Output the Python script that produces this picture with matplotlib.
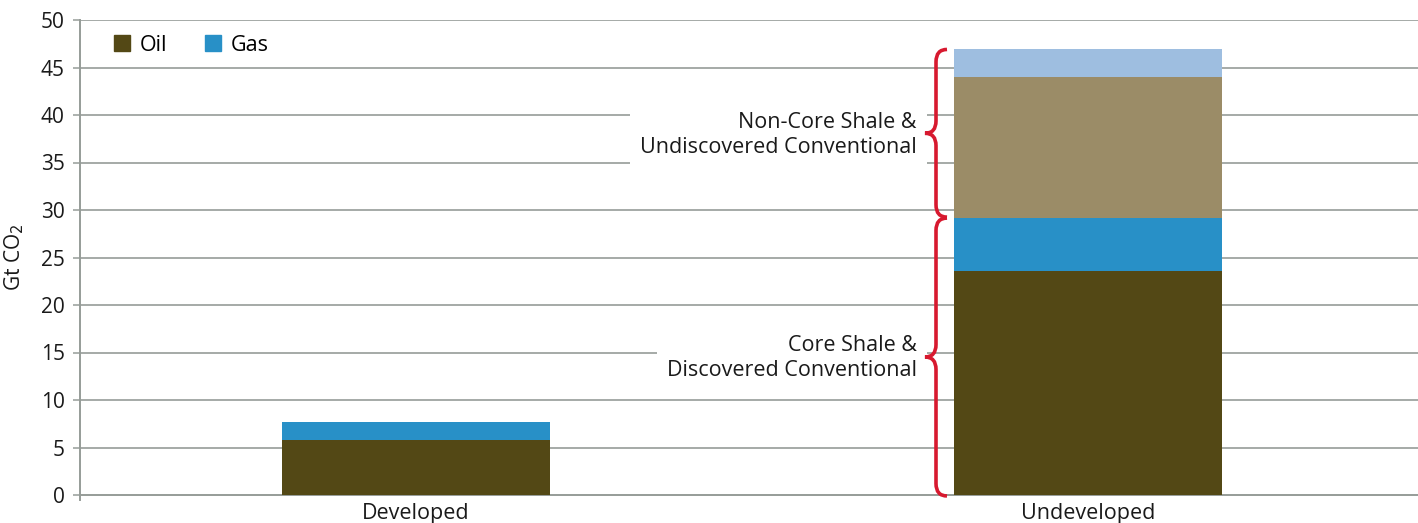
import matplotlib
matplotlib.use("Agg")
import matplotlib.pyplot as plt
from matplotlib.path import Path
from matplotlib.patches import PathPatch, Patch

plt.rcParams['font.family'] = ['Open Sans', 'DejaVu Sans']

categories = ["Developed", "Undeveloped"]
oil = [5.8, 23.6]
gas = [1.9, 5.6]
noncore_oil = [0.0, 14.8]
noncore_gas = [0.0, 2.9]
yticks = [0, 5, 10, 15, 20, 25, 30, 35, 40, 45, 50]

c_oil = "#534815"
c_gas = "#2890c7"
c_nc_oil = "#9b8c67"
c_nc_gas = "#9ebee0"
c_grid = "#969c98"
c_red = "#d7192f"
c_txt = "#1a1a1a"

fig = plt.figure(figsize=(14.18, 5.23), dpi=100)
ax = fig.add_axes([80/1418, 28/523, (1424-80)/1418, 475/523])

x = list(range(len(categories)))
w = 0.40
b1 = oil
b2 = [o + g for o, g in zip(oil, gas)]
b3 = [a + n for a, n in zip(b2, noncore_oil)]
ax.bar(x, oil, w, color=c_oil, zorder=3)
ax.bar(x, gas, w, bottom=b1, color=c_gas, zorder=3)
ax.bar(x, noncore_oil, w, bottom=b2, color=c_nc_oil, zorder=3)
ax.bar(x, noncore_gas, w, bottom=b3, color=c_nc_gas, zorder=3)

ax.set_xlim(-0.5, 1.5)
ax.set_ylim(0, 50)
ax.set_yticks(yticks)
ax.set_yticklabels([str(t) for t in yticks], fontsize=15, color=c_txt)
ax.set_xticks(x)
ax.set_xticklabels(categories, fontsize=15.5, color=c_txt)
ax.tick_params(axis='x', length=0, pad=6)
ax.tick_params(axis='y', length=5, width=1.1, color=c_grid, pad=6)
for yv in yticks[1:]:
    ax.axhline(yv, color=c_grid, lw=1.2, zorder=0)
for s in ["top", "right"]:
    ax.spines[s].set_visible(False)
ax.spines["left"].set_color(c_grid)
ax.spines["left"].set_linewidth(1.4)
ax.spines["left"].set_bounds(-0.5, 50)
ax.spines["bottom"].set_color(c_grid)
ax.spines["bottom"].set_linewidth(1.4)
ax.set_ylabel("Gt CO$_2$", fontsize=15, color=c_txt)
ax.yaxis.set_label_coords(-0.040, 0.5)

# braces
def brace(y0, y1, xt, xs, xe, r):
    ym = (y0 + y1) / 2
    verts = [(xe, y0), (xs, y0), (xs, y0 + r),
             (xs, ym - r),
             (xs, ym), (xt, ym),
             (xs, ym), (xs, ym + r),
             (xs, y1 - r),
             (xs, y1), (xe, y1)]
    codes = [Path.MOVETO, Path.CURVE3, Path.CURVE3,
             Path.LINETO,
             Path.CURVE3, Path.CURVE3,
             Path.CURVE3, Path.CURVE3,
             Path.LINETO,
             Path.CURVE3, Path.CURVE3]
    ax.add_patch(PathPatch(Path(verts, codes), fill=False, edgecolor=c_red,
                           lw=2.6, zorder=5, capstyle='butt', clip_on=False))

xt = 1 - (1089 - 926) / 672
xs = 1 - (1089 - 937) / 672
xe = 1 - (1089 - 948) / 672
brace(-0.1, b2[1] - 0.05, xt, xs, xe, 1.3)
brace(b2[1] + 0.05, b3[1] + noncore_gas[1], xt, xs, xe, 1.3)

bbox = dict(facecolor="white", edgecolor="none", pad=7)
ax.text(xt - 0.012, 37.9, "Non-Core Shale &\nUndiscovered Conventional", ha="right",
        va="center", fontsize=15.5, color=c_txt, linespacing=1.25, zorder=2, bbox=bbox)
ax.text(xt - 0.012, 14.4, "Core Shale &\nDiscovered Conventional", ha="right",
        va="center", fontsize=15.5, color=c_txt, linespacing=1.25, zorder=2, bbox=bbox)

handles = [Patch(color=c_oil, label="Oil"), Patch(color=c_gas, label="Gas")]
ax.legend(handles=handles, loc="upper left", bbox_to_anchor=(0.011, 1.01), ncol=2,
          frameon=False, fontsize=15.5, handlelength=0.75, handleheight=0.75,
          handletextpad=0.45, columnspacing=1.75)

fig.savefig("out.png", dpi=100)
